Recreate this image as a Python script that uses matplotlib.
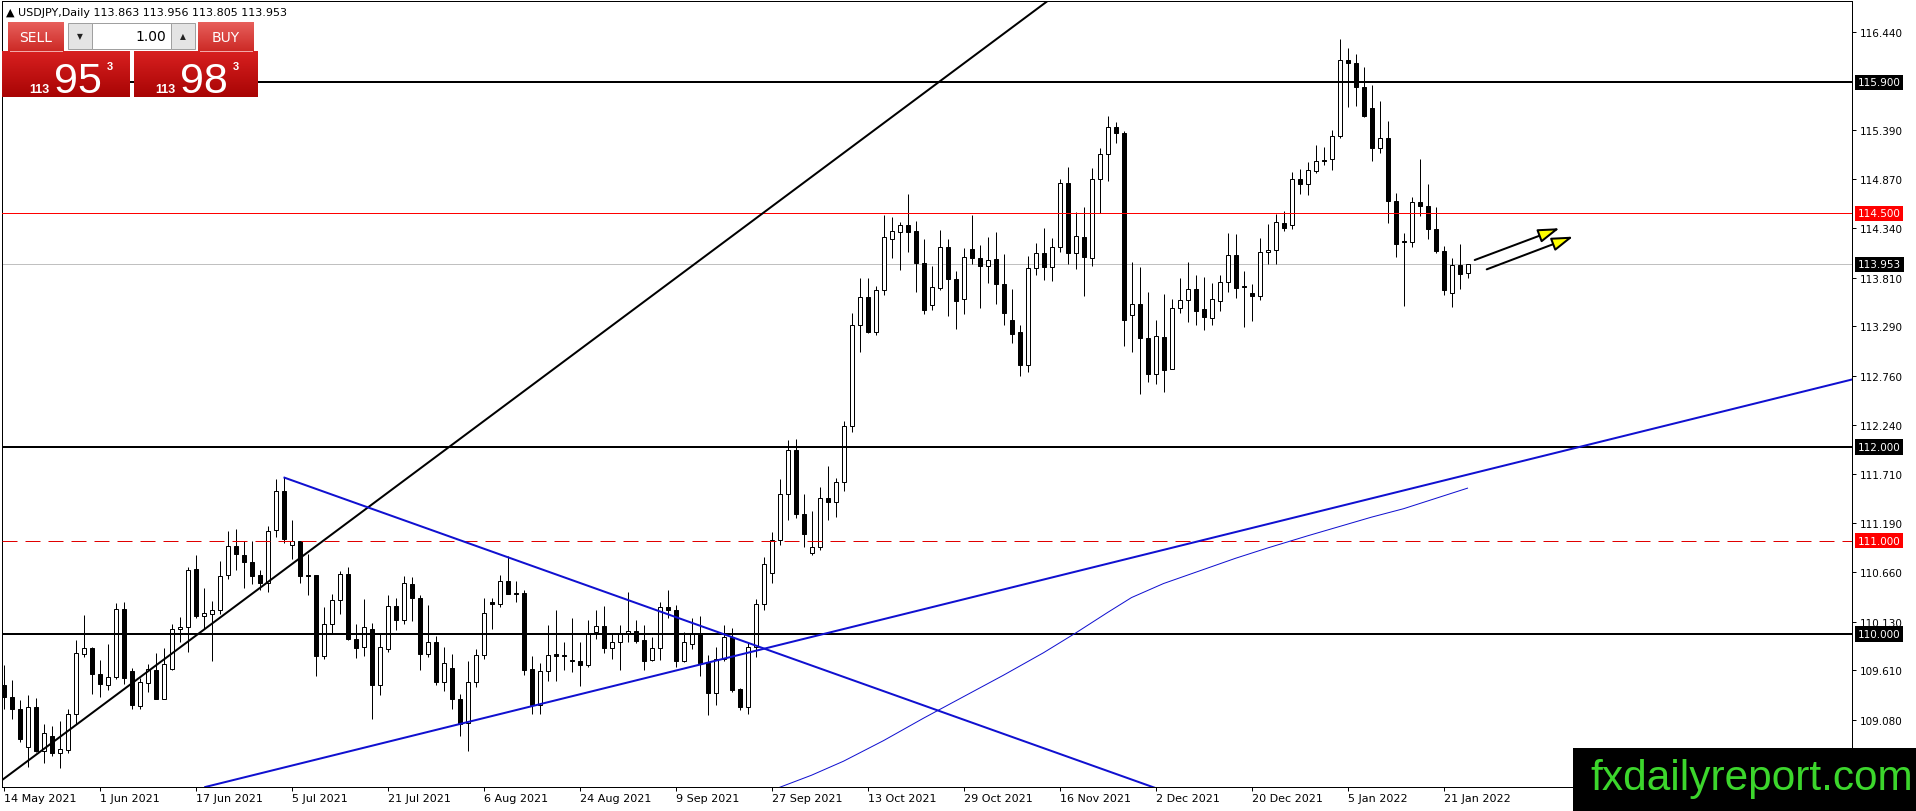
#!/usr/bin/env python3
"""USDJPY daily chart, MT4 style, with support/resistance levels and trend lines."""

import matplotlib
matplotlib.use("Agg")
import matplotlib.pyplot as plt
import matplotlib.transforms as mtransforms
import numpy as np
from matplotlib.colors import to_rgb
from matplotlib.patches import Rectangle

W, H, DPI = 1916, 812, 100
PX = 72.0 / DPI  # one pixel in points

# Daily candles, 14 May 2021 .. 26 Jan 2022
opens = [
    109.46, 109.33, 109.20, 108.79, 109.22, 108.75, 108.91, 108.73, 108.76, 109.14,
    109.79, 109.85, 109.57, 109.46, 109.54, 110.27, 109.60, 109.23, 109.48, 109.61,
    109.31, 109.63, 110.05, 110.07, 110.70, 110.19, 110.21, 110.26, 110.63, 110.94,
    110.85, 110.77, 110.63, 110.55, 111.11, 111.53, 110.95, 111.00, 110.63, 110.63,
    109.76, 110.11, 110.36, 110.64, 109.95, 109.86, 110.05, 109.45, 109.84, 110.30,
    110.15, 110.54, 110.39, 109.79, 109.92, 109.49, 109.64, 109.31, 109.05, 109.49,
    109.78, 110.34, 110.32, 110.57, 110.44, 110.44, 109.63, 109.24, 109.60, 109.78,
    109.77, 109.72, 109.71, 109.67, 110.02, 110.09, 109.85, 109.92, 110.00, 110.03,
    109.94, 109.72, 109.85, 110.29, 110.26, 109.71, 109.89, 110.00, 109.69, 109.37,
    109.73, 109.97, 109.41, 109.22, 109.86, 110.32, 110.65, 111.01, 111.50, 111.97,
    111.28, 110.87, 110.93, 111.46, 111.41, 111.63, 112.22, 113.30, 113.60, 113.23,
    113.68, 114.22, 114.30, 114.37, 114.31, 113.97, 113.52, 113.70, 114.14, 113.80,
    113.58, 114.12, 114.02, 113.94, 114.01, 113.74, 113.36, 113.23, 112.88, 113.91,
    114.08, 113.92, 114.14, 114.82, 114.08, 114.25, 114.02, 114.87, 115.13, 115.42,
    115.36, 113.41, 113.53, 113.17, 112.78, 113.18, 112.83, 113.49, 113.57, 113.69,
    113.48, 113.38, 113.56, 113.76, 114.05, 113.72, 113.65, 113.62, 114.09, 114.11,
    114.40, 114.37, 114.87, 114.81, 114.95, 115.07, 115.08, 115.33, 116.14, 116.11,
    115.85, 115.63, 115.20, 115.30, 114.63, 114.20, 114.19, 114.62, 114.58, 114.33,
    114.10, 113.65, 113.95, 113.863,
]
highs = [
    109.67, 109.51, 109.29, 109.35, 109.32, 109.04, 109.02, 109.07, 109.20, 109.94,
    110.20, 109.86, 109.72, 109.89, 110.33, 110.34, 109.64, 109.53, 109.68, 109.80,
    109.85, 110.11, 110.18, 110.72, 110.84, 110.49, 110.35, 110.78, 111.10, 111.12,
    111.00, 111.00, 110.68, 111.15, 111.66, 111.68, 111.22, 111.00, 110.86, 110.63,
    110.29, 110.43, 110.67, 110.72, 110.11, 110.37, 110.12, 110.00, 110.42, 110.39,
    110.62, 110.61, 110.42, 110.31, 109.98, 109.86, 109.79, 109.36, 109.71, 109.84,
    110.39, 110.38, 110.63, 110.83, 110.57, 110.47, 109.77, 109.69, 110.10, 110.26,
    109.91, 110.17, 109.92, 110.15, 110.26, 110.30, 110.00, 110.10, 110.45, 110.15,
    110.10, 109.97, 110.34, 110.47, 110.31, 110.02, 110.17, 110.19, 109.78, 109.86,
    110.10, 110.06, 109.42, 109.90, 110.37, 110.82, 111.09, 111.66, 112.07, 112.09,
    111.50, 111.32, 111.57, 111.80, 111.67, 112.28, 113.43, 113.81, 113.81, 113.72,
    114.48, 114.46, 114.41, 114.71, 114.42, 114.22, 113.94, 114.32, 114.23, 113.88,
    114.13, 114.48, 114.16, 114.25, 114.30, 114.06, 113.69, 113.31, 114.04, 114.18,
    114.34, 114.24, 114.87, 114.99, 114.51, 114.57, 114.98, 115.20, 115.54, 115.48,
    115.38, 113.98, 113.92, 113.66, 113.36, 113.64, 113.58, 113.81, 113.98, 113.84,
    113.82, 113.75, 113.84, 114.29, 114.28, 113.88, 113.74, 114.24, 114.39, 114.49,
    114.52, 114.94, 114.97, 115.05, 115.23, 115.21, 115.39, 116.36, 116.27, 116.20,
    116.06, 115.87, 115.70, 115.49, 114.72, 114.29, 114.67, 115.08, 114.81, 114.57,
    114.15, 114.02, 114.17, 113.956,
]
lows = [
    109.20, 109.09, 108.85, 108.58, 108.74, 108.62, 108.70, 108.57, 108.73, 109.04,
    109.75, 109.36, 109.33, 109.40, 109.52, 109.47, 109.20, 109.20, 109.38, 109.30,
    109.30, 109.62, 109.92, 109.81, 110.17, 110.05, 109.71, 110.21, 110.59, 110.69,
    110.49, 110.53, 110.47, 110.45, 111.04, 110.97, 110.80, 110.55, 110.42, 109.55,
    109.73, 110.01, 110.21, 109.94, 109.74, 109.76, 109.09, 109.35, 109.81, 110.04,
    110.11, 110.14, 109.62, 109.75, 109.45, 109.39, 109.20, 108.91, 108.75, 109.43,
    109.73, 110.05, 110.29, 110.43, 110.34, 109.56, 109.14, 109.14, 109.50, 109.50,
    109.61, 109.59, 109.44, 109.65, 109.95, 109.80, 109.73, 109.61, 109.91, 109.90,
    109.62, 109.71, 109.72, 110.17, 109.65, 109.70, 109.84, 109.55, 109.13, 109.24,
    109.71, 109.38, 109.19, 109.15, 109.75, 110.26, 110.55, 110.95, 111.22, 111.24,
    110.93, 110.84, 110.90, 111.22, 111.25, 111.53, 112.16, 113.02, 113.22, 113.20,
    113.63, 114.02, 113.89, 114.09, 113.66, 113.42, 113.47, 113.68, 113.40, 113.26,
    113.42, 113.96, 113.49, 113.75, 113.53, 113.31, 113.11, 112.76, 112.80, 113.84,
    113.79, 113.78, 114.09, 113.96, 113.90, 113.61, 113.94, 114.50, 114.85, 115.25,
    113.08, 113.02, 112.57, 112.70, 112.67, 112.59, 112.83, 113.43, 113.34, 113.30,
    113.25, 113.30, 113.45, 113.66, 113.59, 113.28, 113.35, 113.57, 113.96, 113.96,
    114.31, 114.33, 114.71, 114.69, 114.93, 115.02, 114.96, 115.30, 115.64, 115.65,
    115.53, 115.06, 115.14, 114.40, 114.03, 113.51, 114.14, 114.47, 114.22, 114.08,
    113.63, 113.50, 113.69, 113.805,
]
closes = [
    109.33, 109.20, 108.88, 109.22, 108.75, 108.94, 108.73, 108.77, 109.14, 109.80,
    109.85, 109.57, 109.47, 109.54, 110.27, 109.53, 109.24, 109.49, 109.63, 109.31,
    109.68, 110.05, 110.07, 110.69, 110.19, 110.22, 110.26, 110.62, 110.94, 110.86,
    110.77, 110.62, 110.55, 111.10, 111.53, 111.02, 110.99, 110.62, 110.62, 109.77,
    110.11, 110.36, 110.64, 109.95, 109.85, 110.08, 109.45, 109.86, 110.30, 110.15,
    110.55, 110.39, 109.79, 109.92, 109.49, 109.69, 109.31, 109.04, 109.49, 109.78,
    110.23, 110.32, 110.57, 110.43, 110.43, 109.62, 109.24, 109.60, 109.78, 109.77,
    109.76, 109.71, 109.67, 110.00, 110.09, 109.85, 109.92, 110.00, 110.03, 109.93,
    109.71, 109.85, 110.29, 110.26, 109.71, 109.91, 110.00, 109.69, 109.37, 109.73,
    109.97, 109.40, 109.22, 109.86, 110.32, 110.75, 111.01, 111.50, 111.97, 111.28,
    111.07, 110.93, 111.46, 111.41, 111.63, 112.23, 113.30, 113.60, 113.23, 113.68,
    114.25, 114.31, 114.37, 114.30, 113.97, 113.47, 113.71, 114.14, 113.80, 113.56,
    114.03, 114.02, 113.94, 114.00, 113.74, 113.43, 113.21, 112.88, 113.91, 114.08,
    113.92, 114.14, 114.82, 114.08, 114.26, 114.03, 114.87, 115.13, 115.42, 115.36,
    113.36, 113.53, 113.17, 112.78, 113.19, 112.82, 113.49, 113.57, 113.69, 113.46,
    113.39, 113.58, 113.76, 114.05, 113.70, 113.71, 113.62, 114.09, 114.11, 114.41,
    114.34, 114.87, 114.81, 114.96, 115.06, 115.06, 115.33, 116.14, 116.11, 115.85,
    115.54, 115.20, 115.30, 114.63, 114.17, 114.19, 114.62, 114.58, 114.33, 114.10,
    113.68, 113.95, 113.85, 113.953,
]

date_labels = [
    "14 May 2021", "1 Jun 2021", "17 Jun 2021", "5 Jul 2021", "21 Jul 2021",
    "6 Aug 2021", "24 Aug 2021", "9 Sep 2021", "27 Sep 2021", "13 Oct 2021",
    "29 Oct 2021", "16 Nov 2021", "2 Dec 2021", "20 Dec 2021", "5 Jan 2022",
    "21 Jan 2022",
]
bars_per_label = 12

price_ticks = [116.44, 115.39, 114.87, 114.34, 113.81, 113.29, 112.76, 112.24,
               111.71, 111.19, 110.66, 110.13, 109.61, 109.08]

# horizontal levels
level_prices = [115.9, 114.5, 112.0, 111.0, 110.0]
level_colors = ["black", "#ff0000", "black", "#e00000", "black"]
level_dashed = [False, False, False, True, False]
level_px = [2, 1, 2, 1, 2]

ask = 113.983

# trend lines as (bar, price) anchors
black_trend = [(0.0, 108.45), (56.0, 112.02)]
blue_down = [(35.0, 111.676), (150.0, 108.17)]
blue_up = [(25.5, 108.37), (230.3, 112.706)]

# thin moving average
ma_bars = [97, 101, 105, 110, 115, 120, 125, 130, 134, 138, 141, 145, 149,
           154, 158, 163, 167, 171, 175, 179, 183]
ma_vals = [108.36, 108.49, 108.64, 108.86, 109.10, 109.33, 109.56, 109.80,
           110.01, 110.23, 110.39, 110.54, 110.66, 110.81, 110.92, 111.05,
           111.15, 111.25, 111.34, 111.45, 111.56]

arrow_starts = [(183.9, 114.00), (185.4, 113.90)]
arrow_ends = [(194.5, 114.34), (196.2, 114.25)]

BLUE = "#1010d0"


def gradient_box(ov, x0, y0, w, h, top, bottom):
    """Vertical colour gradient rectangle in overlay pixel coordinates."""
    t = np.array(to_rgb(top))
    b = np.array(to_rgb(bottom))
    k = np.linspace(0, 1, 64)[:, None]
    img = (t * (1 - k) + b * k)[:, None, :]
    ov.imshow(img, extent=(x0, x0 + w, y0 + h, y0), aspect="auto",
              interpolation="bilinear", zorder=1)


def main():
    fig = plt.figure(figsize=(W / DPI, H / DPI), dpi=DPI)
    fig.patch.set_facecolor("white")

    # plot frame: x 2..1852 px, y 2..788 px
    ax = fig.add_axes([2 / W, (H - 788) / H, 1850 / W, 786 / H])
    ax.set_xlim(-0.19, 231.06)
    ax.set_ylim(108.364, 116.77)

    bid = closes[-1]

    # candles
    xs = list(range(len(opens)))
    ax.vlines(xs, lows, highs, color="black", lw=PX, zorder=3)
    bottoms = [min(o, c) for o, c in zip(opens, closes)]
    heights = [max(abs(c - o), 0.012) for o, c in zip(opens, closes)]
    faces = ["white" if c >= o else "black" for o, c in zip(opens, closes)]
    ax.bar(xs, heights, bottom=bottoms, width=0.5, color=faces,
           edgecolor="black", linewidth=PX, zorder=4)

    # bid line and levels
    ax.axhline(bid, color="#c0c0c0", lw=PX, zorder=2)
    for p, col, dashed, w in zip(level_prices, level_colors, level_dashed, level_px):
        ls = (0, (15, 8)) if dashed else "-"
        ax.axhline(p, color=col, lw=w * PX, ls=ls, zorder=5)

    # trend lines
    ax.axline(black_trend[0], black_trend[1], color="black", lw=2 * PX, zorder=5)
    ax.plot([p[0] for p in blue_down], [p[1] for p in blue_down],
            color=BLUE, lw=2 * PX, zorder=5, solid_capstyle="butt")
    ax.axline(blue_up[0], blue_up[1], color=BLUE, lw=2 * PX, zorder=5)
    ax.plot(ma_bars, ma_vals, color=BLUE, lw=PX, zorder=5)

    # arrows
    for (x0, y0), (x1, y1) in zip(arrow_starts, arrow_ends):
        ax.annotate("", xy=(x1, y1), xytext=(x0, y0), zorder=6,
                    arrowprops=dict(arrowstyle="-|>,head_length=1.3,head_width=0.42",
                                    fc="#ffff00", ec="black", lw=2 * PX,
                                    shrinkA=0, shrinkB=0, mutation_scale=10))

    # axes styling
    for sp in ax.spines.values():
        sp.set_linewidth(PX)
        sp.set_color("black")
    ax.yaxis.tick_right()
    ax.set_yticks(price_ticks)
    ax.set_yticklabels([f"{v:.3f}" for v in price_ticks])
    ax.tick_params(axis="y", direction="out", length=4 * PX, width=PX,
                   labelsize=7.5, pad=3)
    ax.set_xticks([i * bars_per_label for i in range(len(date_labels))])
    ax.set_xticklabels(date_labels, ha="left")
    ax.tick_params(axis="x", direction="out", length=4 * PX, width=PX,
                   labelsize=8, pad=1.5)

    # boxed price labels on the right scale
    blend = mtransforms.blended_transform_factory(ax.transAxes, ax.transData)
    box_prices = [115.9, 114.5, bid, 112.0, 111.0, 110.0]
    box_colors = ["black", "#ff0000", "black", "black", "#ff0000", "black"]
    for p, c in zip(box_prices, box_colors):
        ax.annotate(f"{p:.3f}", xy=(1, p), xycoords=blend, xytext=(6, 0),
                    textcoords="offset pixels", ha="left", va="center",
                    fontsize=7.5, color="white", annotation_clip=False, zorder=7,
                    bbox=dict(boxstyle="square,pad=0.25", fc=c, ec="none"))

    # overlay in pixel coordinates for the header, trade panel and logo
    ov = fig.add_axes([0, 0, 1, 1], zorder=10)
    ov.axis("off")
    ov.patch.set_visible(False)

    header = (f"\u25b2 USDJPY,Daily {opens[-1]:.3f} {highs[-1]:.3f} "
              f"{lows[-1]:.3f} {closes[-1]:.3f}")
    ov.text(6, 13, header, fontsize=8, ha="left", va="center")

    # SELL / BUY buttons
    gradient_box(ov, 8, 23, 56, 29, "#e8605c", "#cc2a26")
    gradient_box(ov, 198, 23, 56, 29, "#e8605c", "#cc2a26")
    ov.text(36, 38, "SELL", color="white", fontsize=10, ha="center", va="center")
    ov.text(226, 38, "BUY", color="white", fontsize=10, ha="center", va="center")
    # lot controls
    ov.add_patch(Rectangle((68, 24), 24, 26, fc="#e4e4e4", ec="#a0a0a0", lw=PX))
    ov.add_patch(Rectangle((92, 24), 79, 26, fc="white", ec="#a0a0a0", lw=PX))
    ov.add_patch(Rectangle((171, 24), 24, 26, fc="#e4e4e4", ec="#a0a0a0", lw=PX))
    ov.text(80, 37, "\u25bc", fontsize=5.5, ha="center", va="center", color="#222222")
    ov.text(183, 37, "\u25b2", fontsize=5.5, ha="center", va="center", color="#222222")
    ov.text(166, 37, "1.00", fontsize=10, ha="right", va="center")
    # price boxes
    gradient_box(ov, 2, 52, 128, 46, "#d82020", "#a80404")
    gradient_box(ov, 134, 52, 124, 46, "#d82020", "#a80404")
    ov.plot([10, 62], [52, 52], color="#f2a8a8", lw=PX)
    ov.plot([200, 252], [52, 52], color="#f2a8a8", lw=PX)

    for q, x0 in ((bid, 29), (ask, 155)):
        s = f"{q:.3f}"
        ov.text(x0, 93, s[:3], color="white", fontsize=9, fontweight="bold",
                ha="left", va="baseline", family="Liberation Sans")
        ov.text(x0 + 25, 93, s[4:6], color="white", fontsize=31,
                ha="left", va="baseline", family="Liberation Sans")
        ov.text(x0 + 78, 70, s[6], color="white", fontsize=8, fontweight="bold",
                ha="left", va="baseline", family="Liberation Sans")

    # logo
    ov.add_patch(Rectangle((1573, 749), W - 1573, H - 749, fc="black", ec="none"))
    ov.text(1590, 790, "fxdailyreport.com", color="#3cd62c", fontsize=30.5,
            family="Liberation Sans", ha="left", va="baseline")

    ov.set_xlim(0, W)
    ov.set_ylim(H, 0)

    fig.savefig("out.png", dpi=DPI)
    plt.close(fig)


if __name__ == "__main__":
    main()
